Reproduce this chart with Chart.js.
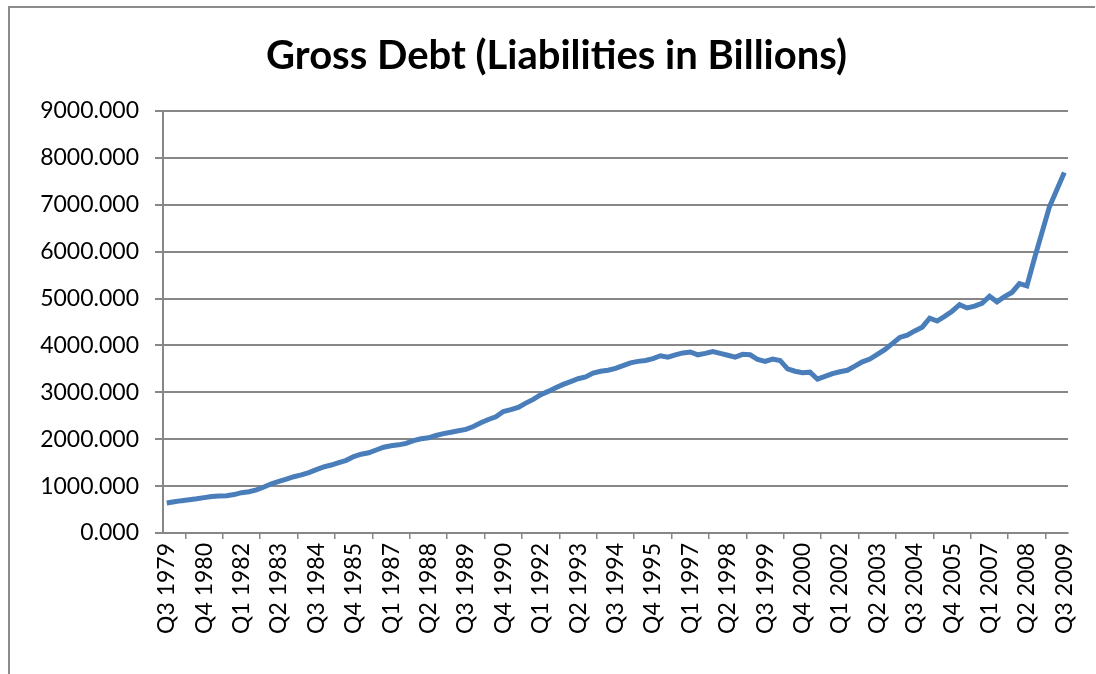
<!DOCTYPE html>
<html>
<head>
<meta charset="utf-8">
<title>Gross Debt</title>
<script src="https://cdn.jsdelivr.net/npm/chart.js@4/dist/chart.umd.min.js"></script>
<style>
    body { margin: 0; background: #fff; }
    #wrap { position: relative; width: 1096px; height: 674px; overflow: hidden; }
    #frame { position: absolute; left: 8px; top: 6px; width: 1085px; height: 700px;
             border-left: 2px solid #8c8c8c; border-top: 2px solid #8c8c8c; }
    canvas { position: absolute; left: 0; top: 0; }
</style>
</head>
<body>
<div id="wrap">
    <div id="frame"></div>
    <canvas id="debtChart" width="1096" height="674"></canvas>
</div>
<script>
// quarters from Q3 1979 to Q3 2009
const quarters = [];
for (let y = 1979; y <= 2009; y++) {
    for (let q = 1; q <= 4; q++) {
        if ((y === 1979 && q < 3) || (y === 2009 && q > 3)) continue;
        quarters.push(`Q${q} ${y}`);
    }
}

// gross debt, billions
const grossDebt = [
    640, 665, 690, 710, 730, 755, 780, 790, 795, 820,
    860, 880, 920, 980, 1050, 1100, 1150, 1200, 1240, 1290,
    1350, 1410, 1450, 1500, 1550, 1630, 1680, 1710, 1770, 1830,
    1860, 1880, 1910, 1970, 2010, 2030, 2080, 2120, 2150, 2180,
    2210, 2270, 2350, 2420, 2480, 2590, 2630, 2680, 2770, 2850,
    2950, 3020, 3100, 3170, 3230, 3290, 3330, 3410, 3450, 3470,
    3510, 3570, 3630, 3660, 3680, 3720, 3780, 3750, 3800, 3840,
    3860, 3800, 3830, 3870, 3830, 3790, 3750, 3810, 3800, 3700,
    3660, 3710, 3680, 3500, 3450, 3420, 3430, 3280, 3340, 3400,
    3440, 3470, 3560, 3650, 3710, 3810, 3910, 4040, 4170, 4220,
    4310, 4390, 4580, 4520, 4620, 4730, 4870, 4800, 4840, 4900,
    5050, 4930, 5040, 5130, 5320, 5270, 5850, 6400, 6950, 7320,
    7690
];

const yTicks = [0, 1000, 2000, 3000, 4000, 5000, 6000, 7000, 8000, 9000];

const gridGrey = '#878787';
const fontFamily = 'Lato, "Open Sans", sans-serif';

const ctx = document.getElementById('debtChart').getContext('2d');
new Chart(ctx, {
    type: 'line',
    data: {
        labels: quarters,
        datasets: [{
            label: 'Gross Debt',
            data: grossDebt,
            borderColor: '#4a7ebb',
            borderWidth: 5,
            pointRadius: 0,
            tension: 0,
            fill: false
        }]
    },
    options: {
        responsive: false,
        animation: false,
        layout: { padding: { left: 38, right: 21, top: 0, bottom: 0 } },
        plugins: {
            legend: { display: false },
            tooltip: { enabled: false },
            title: {
                display: true,
                text: 'Gross Debt (Liabilities in Billions)',
                color: '#000',
                font: { family: fontFamily, size: 40, weight: 'bold' },
                padding: { top: 32, bottom: 31 }
            }
        },
        scales: {
            x: {
                offset: true,
                grid: {
                    display: true,
                    drawOnChartArea: false,
                    offset: true,
                    color: gridGrey,
                    lineWidth: 1.5,
                    tickLength: 6
                },
                border: { color: gridGrey, width: 2 },
                ticks: {
                    autoSkip: false,
                    maxRotation: 90,
                    minRotation: 90,
                    color: '#000',
                    padding: 4,
                    font: { family: fontFamily, size: 23 },
                    callback: function (v, i) {
                        return i % 5 === 0 ? quarters[i] : null;
                    }
                },
                afterFit: function (scale) { scale.height = 141; }
            },
            y: {
                min: 0,
                max: 9000,
                afterBuildTicks: function (scale) {
                    scale.ticks = yTicks.map(v => ({ value: v }));
                },
                grid: {
                    color: gridGrey,
                    lineWidth: 2,
                    tickLength: 8
                },
                border: { color: gridGrey, width: 2 },
                ticks: {
                    color: '#000',
                    padding: 16,
                    font: { family: fontFamily, size: 23 },
                    callback: v => Number(v).toFixed(3)
                },
                afterFit: function (scale) { scale.width = 125; }
            }
        }
    }
});
</script>
</body>
</html>
